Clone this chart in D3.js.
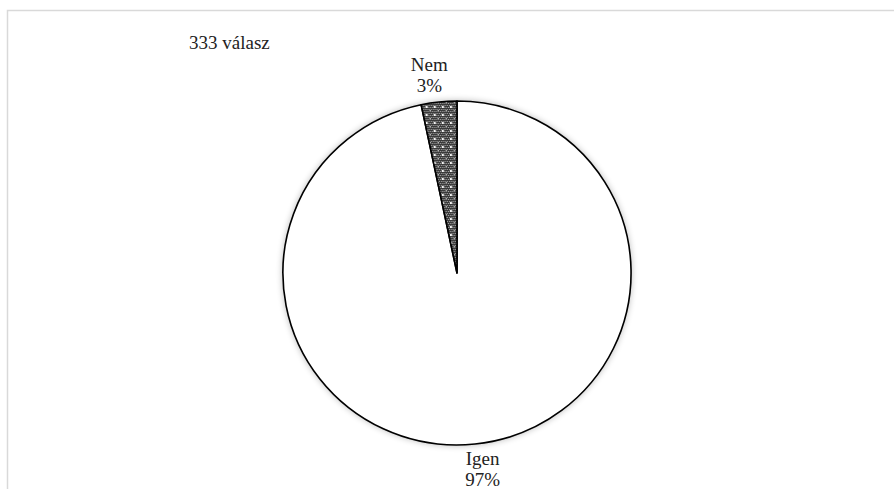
<!DOCTYPE html>
<html>
<head>
<meta charset="utf-8">
<script src="https://cdn.jsdelivr.net/npm/d3@7"></script>
<style>
  body { margin: 0; background: #fff; }
  text { font-family: "Liberation Serif", "Times New Roman", serif; fill: #222; }
</style>
</head>
<body>
<div id="chart"></div>
<script>
// data of the chart
const CATEGORIES = ["Igen", "Nem"];
const COUNTS = [322, 11];
const PERCENT_LABELS = ["97%", "3%"];
const TITLE = "333 válasz";

const WIDTH = 894;
const HEIGHT = 489;
const CENTER = {x: 457, y: 273};
const RADIUS = 172;
// excel puts the labels a little off the slice middle
const LABEL_ANGLE = [172.6, -8];
const LABEL_DIST = 199;

const SVG = d3.select("#chart")
              .append("svg")
                .attr("width", WIDTH)
                .attr("height", HEIGHT);

const DEFS = SVG.append("defs");

// dotted pattern of the small slice
const PAT = DEFS.append("pattern")
                .attr("id", "dots")
                .attr("patternUnits", "userSpaceOnUse")
                .attr("width", 8)
                .attr("height", 8);
PAT.append("rect").attr("width", 8).attr("height", 8).attr("fill", "#3a3a3a");
for (let i = 0; i < 8; i += 2) {
  for (let j = 0; j < 8; j += 2) {
    PAT.append("rect").attr("x", i + (j % 4 == 0 ? 0 : 1)).attr("y", j)
       .attr("width", 1).attr("height", 1).attr("fill", "#a8a8a8");
  }
}
PAT.append("rect").attr("x", 1).attr("y", 1).attr("width", 2).attr("height", 2).attr("fill", "#fff");
PAT.append("rect").attr("x", 5).attr("y", 5).attr("width", 1).attr("height", 1).attr("fill", "#e0e0e0");

const SHADOW = DEFS.append("filter")
                   .attr("id", "shadow")
                   .attr("x", "-10%").attr("y", "-10%")
                   .attr("width", "120%").attr("height", "120%");
SHADOW.append("feGaussianBlur").attr("in", "SourceAlpha").attr("stdDeviation", 3);
SHADOW.append("feComponentTransfer")
        .append("feFuncA").attr("type", "linear").attr("slope", 0.25);

// frame of the chart area
SVG.append("rect")
     .attr("x", 7.5)
     .attr("y", 10.5)
     .attr("width", WIDTH)
     .attr("height", HEIGHT)
     .attr("fill", "none")
     .attr("stroke", "#d9d9d9")
     .attr("stroke-width", 1.5);

SVG.append("text")
     .attr("x", 189)
     .attr("y", 49)
     .attr("font-size", "19px")
     .text(TITLE);

const data = CATEGORIES.map((c, i) => ({cat: c, value: COUNTS[i], pct: PERCENT_LABELS[i]}));

const PIE = d3.pie()
              .sort(null)
              .value((d) => {return d.value;});

const ARC = d3.arc()
              .innerRadius(0)
              .outerRadius(RADIUS);

// pie is a touch wider than tall in the reference
const G = SVG.append("g")
               .attr("transform", "translate(" + CENTER.x + "," + CENTER.y + ")");
const PIE_G = G.append("g").attr("transform", "scale(1.012,1)");

// soft shadow round the pie
PIE_G.append("circle")
   .attr("r", RADIUS + 1)
   .attr("fill", "#000")
   .attr("filter", "url(#shadow)");

PIE_G.selectAll("slices")
   .data(PIE(data))
   .enter()
   .append("path")
     .attr("d", ARC)
     .attr("fill", (d, i) => {return i == 0 ? "#fff" : "url(#dots)";})
     .attr("stroke", "#000")
     .attr("stroke-width", 1.6)
     .attr("stroke-linejoin", "round");

// labels
const LABELS = G.selectAll("labels")
                 .data(PIE(data))
                 .enter()
                 .append("text")
                   .attr("text-anchor", "middle")
                   .attr("font-size", "19px")
                   .attr("transform", (d, i) => {
                     const a = LABEL_ANGLE[i] * Math.PI / 180;
                     return "translate(" + (Math.sin(a) * LABEL_DIST) + "," + (-Math.cos(a) * LABEL_DIST) + ")";
                   });
LABELS.append("tspan").attr("x", 0).attr("y", -5).text((d) => {return d.data.cat;});
LABELS.append("tspan").attr("x", 0).attr("y", 16).text((d) => {return d.data.pct;});
</script>
</body>
</html>
